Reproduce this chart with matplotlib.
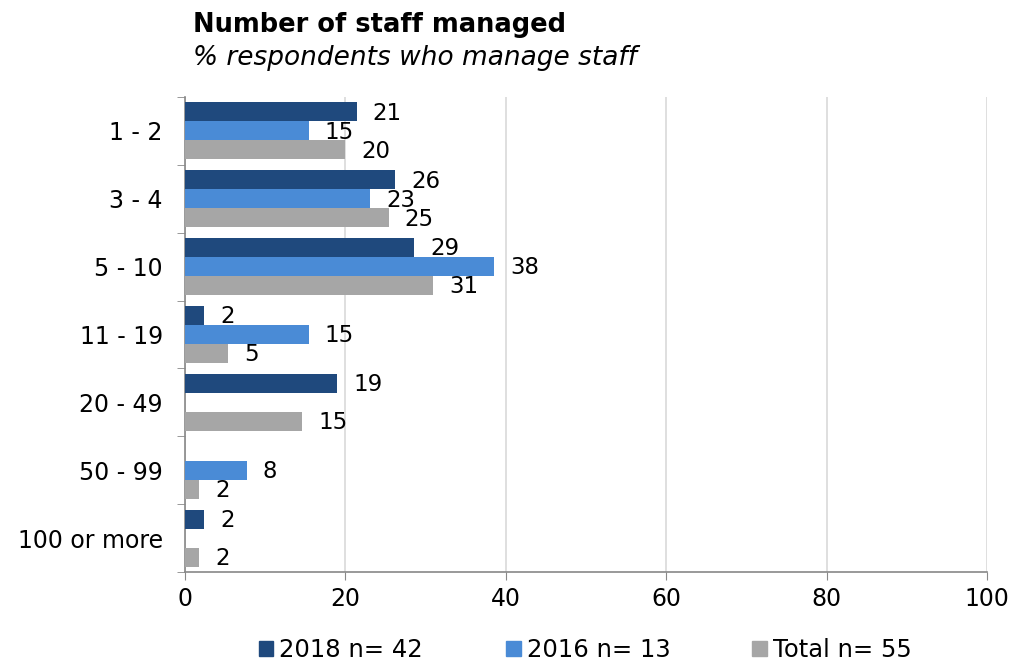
import matplotlib.pyplot as plt
from matplotlib.patches import Patch
import numpy as np

categories = ["1 - 2", "3 - 4", "5 - 10", "11 - 19", "20 - 49", "50 - 99", "100 or more"]
series_names = ["2018 n= 42", "2016 n= 13", "Total n= 55"]
vals_2018 = [21.4, 26.2, 28.6, 2.4, 19.0, 0, 2.4]
vals_2016 = [15.4, 23.1, 38.5, 15.4, 0, 7.7, 0]
vals_total = [20.0, 25.4, 30.9, 5.4, 14.6, 1.8, 1.8]
colors = ["#1F497D", "#4A8BD6", "#A6A6A6"]

fig = plt.figure(figsize=(10.19, 6.62), dpi=100)
ax = fig.add_axes([0.1816, 0.136, 0.787, 0.7175])

n = len(categories)
y = np.arange(n)
h = 0.28
for i, (vals, c, name) in enumerate(zip([vals_2018, vals_2016, vals_total], colors, series_names)):
    pos = y + (i - 1) * h
    ax.barh(pos, vals, height=h, color=c, label=name, zorder=3)
    for p, v in zip(pos, vals):
        if v > 0:
            ax.text(v + 2.0, p + 0.02, f"{round(v):d}", va="center", ha="left",
                    fontsize=16.5, color="black", zorder=4)

ax.set_xlim(0, 100)
ax.set_ylim(n - 0.5, -0.5)
ax.set_xticks(range(0, 101, 20))
ax.tick_params(axis="x", labelsize=17, length=6, color="#888888", pad=5)
ax.set_yticks(y)
ax.set_yticklabels(categories, fontsize=17)
ax.tick_params(axis="y", length=0, pad=16)
ax.set_yticks(np.arange(n + 1) - 0.5, minor=True)
ax.tick_params(axis="y", which="minor", length=6, color="#888888")
ax.grid(axis="x", color="#D9D9D9", linewidth=1.2, zorder=0)
for s in ["top", "right"]:
    ax.spines[s].set_visible(False)
for s in ["left", "bottom"]:
    ax.spines[s].set_color("#888888")
    ax.spines[s].set_linewidth(1.2)

fig.text(0.189, 0.962, "Number of staff managed", fontsize=18.5, fontweight="bold", va="center")
fig.text(0.189, 0.912, "% respondents who manage staff", fontsize=19, style="italic", va="center")

# legend entries spaced like the original
leg_x = [0.254, 0.497, 0.738]
for x, c, name in zip(leg_x, colors, series_names):
    fig.legend(handles=[Patch(color=c, label=name)], loc="center left",
               bbox_to_anchor=(x, 0.018), frameon=False, fontsize=17.5,
               handlelength=0.6, handleheight=0.6, handletextpad=0.25,
               borderaxespad=0, borderpad=0)

fig.savefig("out.png", dpi=100)
